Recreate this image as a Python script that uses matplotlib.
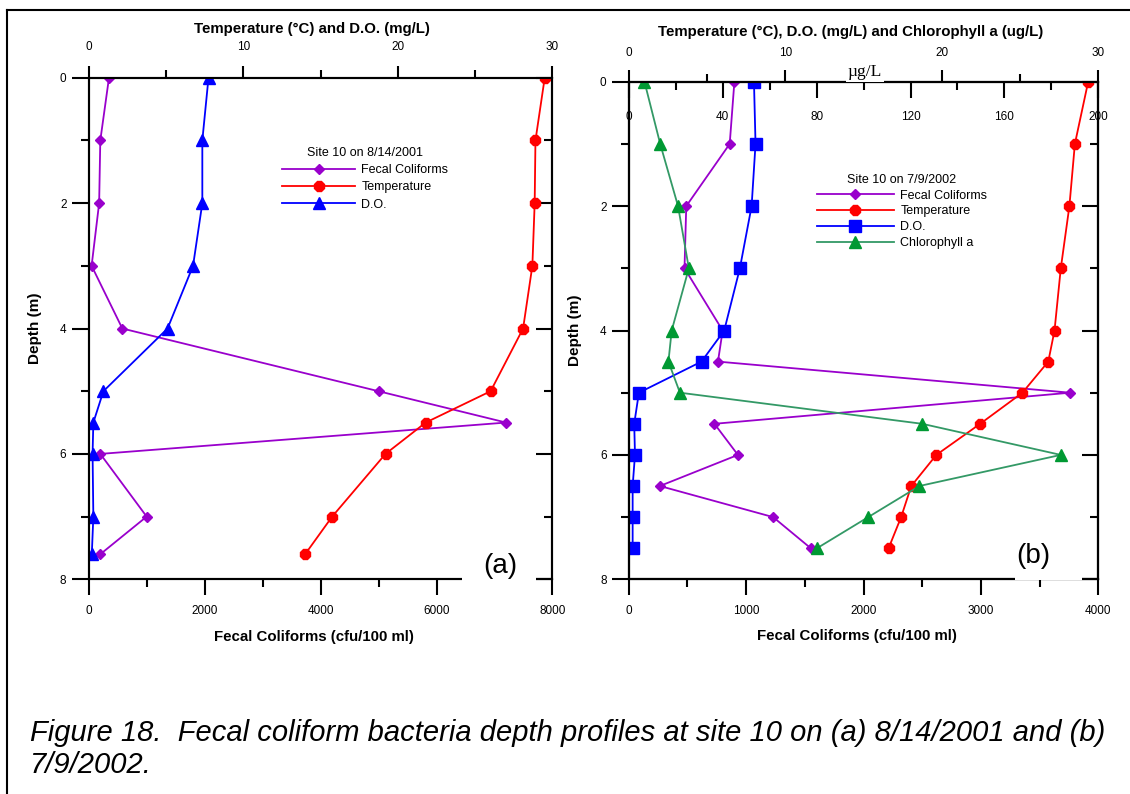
import numpy as np
import matplotlib
matplotlib.use('Agg')
import matplotlib.pyplot as plt
from matplotlib.ticker import MultipleLocator
from matplotlib.patches import Rectangle
from matplotlib.lines import Line2D

plt.rcParams['font.family'] = ['Liberation Sans', 'DejaVu Sans']

# (a) site 10 on 8/14/2001
depth_a = [0, 1, 2, 3, 4, 5, 5.5, 6, 7, 7.6]
fc_a = [350, 200, 180, 50, 580, 5000, 7200, 200, 1000, 200]
temp_a = [29.5, 28.9, 28.85, 28.7, 28.1, 26.0, 21.8, 19.2, 15.75, 14.0]
do_a = [7.75, 7.35, 7.35, 6.75, 5.1, 0.95, 0.3, 0.25, 0.3, 0.2]

# (b) site 10 on 7/9/2002
depth_b = [0, 1, 2, 3, 4, 4.5, 5, 5.5, 6, 6.5, 7, 7.5]
fc_b = [900, 860, 490, 475, 800, 760, 3760, 730, 930, 265, 1230, 1550]
temp_b = [29.35, 28.5, 28.15, 27.6, 27.2, 26.8, 25.15, 22.45, 19.65, 18.05, 17.4, 16.6]
do_b = [8.0, 8.1, 7.85, 7.1, 6.1, 4.65, 0.65, 0.35, 0.4, 0.25, 0.25, 0.25]
chl_b = [6.7, 13.4, 21.0, 25.6, 18.3, 16.9, 21.8, 125.0, 184.0, 123.8, 102.0, 80.2]

PURPLE = '#9900CC'
RED = '#FF0000'
BLUE = '#0000FF'
GREEN_LINE = '#339966'
GREEN = '#009933'
LW = 1.3
TICK_FS = 8.5
LABEL_FS = 10.8

fig = plt.figure(figsize=(11.3, 7.94), dpi=100)


def setup_main(ax, xmax, xmaj, xmin):
    ax.set_ylim(8, 0)
    ax.set_xlim(0, xmax)
    ax.xaxis.set_major_locator(MultipleLocator(xmaj))
    ax.xaxis.set_minor_locator(MultipleLocator(xmin))
    ax.yaxis.set_major_locator(MultipleLocator(2))
    ax.yaxis.set_minor_locator(MultipleLocator(1))
    for s in ax.spines.values():
        s.set_linewidth(1.5)
    ax.tick_params(axis='x', which='major', direction='out', length=11.5, width=1.5,
                   pad=7, labelsize=TICK_FS)
    ax.tick_params(axis='x', which='minor', direction='out', length=6, width=1.5)
    ax.tick_params(axis='y', which='major', direction='out', length=12, width=1.5,
                   pad=4, labelsize=TICK_FS, left=True, right=False)
    ax.tick_params(axis='y', which='minor', direction='out', length=6, width=1.5,
                   left=True, right=False)


def setup_top(ax2, pad):
    ax2.set_xlim(0, 30)
    ax2.xaxis.set_major_locator(MultipleLocator(10))
    ax2.xaxis.set_minor_locator(MultipleLocator(5))
    for s in ax2.spines.values():
        s.set_linewidth(1.5)
    ax2.tick_params(axis='x', which='major', direction='out', length=9, width=1.5,
                    pad=pad, labelsize=TICK_FS)
    ax2.tick_params(axis='x', which='minor', direction='out', length=6, width=1.5)
    # right side depth ticks point inward
    ax2.yaxis.set_visible(True)
    ax2.tick_params(axis='y', which='major', direction='in', length=11.5, width=1.5,
                    left=False, right=True, labelleft=False, labelright=False)
    ax2.tick_params(axis='y', which='minor', direction='in', length=6, width=1.5,
                    left=False, right=True)


# ---------------- panel (a) ----------------
axa = fig.add_axes([0.0785, 0.2704, 0.4104, 0.6317])
setup_main(axa, 8000, 2000, 1000)
axa2 = axa.twiny()
setup_top(axa2, 8.5)

l1, = axa.plot(fc_a, depth_a, color=PURPLE, lw=LW, marker='D', ms=5.5, label='Fecal Coliforms')
l2, = axa2.plot(temp_a, depth_a, color=RED, lw=LW, marker='8', ms=8.5, label='Temperature')
l3, = axa2.plot(do_a, depth_a, color=BLUE, lw=LW, marker='^', ms=8, label='D.O.')

axa.set_xlabel('Fecal Coliforms (cfu/100 ml)', fontsize=LABEL_FS, fontweight='bold')
axa.xaxis.set_label_coords(0.4856, -0.1144)
axa.xaxis.label.set_va('center')
axa.set_ylabel('Depth (m)', fontsize=11, fontweight='bold')
axa.yaxis.set_label_coords(-0.1158, 0.5)
axa.yaxis.label.set_va('center')
axa2.set_xlabel('Temperature (°C) and D.O. (mg/L)', fontsize=LABEL_FS, fontweight='bold')
axa2.xaxis.set_label_coords(0.4813, 1.0965)
axa2.xaxis.label.set_va('center')

axa2.legend([l1, l2, l3], ['Fecal Coliforms', 'Temperature', 'D.O.'],
            title='Site 10 on 8/14/2001', loc='upper left',
            bbox_to_anchor=(0.2496, 0.8149), bbox_transform=fig.transFigure,
            frameon=False, fontsize=9, title_fontsize=9, handlelength=5.85,
            handletextpad=0.5, labelspacing=0.42, borderpad=0, borderaxespad=0)

axa2.add_patch(Rectangle((0.806, -0.02), 0.9645 - 0.806, 0.024, transform=axa2.transAxes,
                         facecolor='white', edgecolor='none', clip_on=False, zorder=10))
axa2.text(0.887, 0.0265, '(a)', transform=axa2.transAxes, fontsize=20,
          ha='center', va='center', zorder=11)

# ---------------- panel (b) ----------------
axb = fig.add_axes([0.5564, 0.2704, 0.4156, 0.6267])
setup_main(axb, 4000, 1000, 500)
axb2 = axb.twiny()
setup_top(axb2, 7)
axb3 = axb.twiny()
axb3.set_xlim(0, 200)
axb3.xaxis.set_major_locator(MultipleLocator(40))
axb3.xaxis.set_minor_locator(MultipleLocator(20))
for s in axb3.spines.values():
    s.set_linewidth(1.5)
axb3.tick_params(axis='x', which='major', direction='in', length=11.5, width=1.5,
                 pad=-29.5, labelsize=TICK_FS, top=True, bottom=False)
axb3.tick_params(axis='x', which='minor', direction='in', length=6, width=1.5,
                 top=True, bottom=False)

m1, = axb.plot(fc_b, depth_b, color=PURPLE, lw=LW, marker='D', ms=5.5, label='Fecal Coliforms')
m2, = axb2.plot(temp_b, depth_b, color=RED, lw=LW, marker='8', ms=8.5, label='Temperature')
m3, = axb2.plot(do_b, depth_b, color=BLUE, lw=LW, marker='s', ms=8, label='D.O.')
m4, = axb3.plot(chl_b, depth_b, color=GREEN_LINE, lw=LW, marker='^', ms=8,
                mfc=GREEN, mec=GREEN, label='Chlorophyll a')

axb.set_xlabel('Fecal Coliforms (cfu/100 ml)', fontsize=LABEL_FS, fontweight='bold')
axb.xaxis.set_label_coords(0.4855, -0.114)
axb.xaxis.label.set_va('center')
axb.set_ylabel('Depth (m)', fontsize=11, fontweight='bold')
axb.yaxis.set_label_coords(-0.1143, 0.5)
axb.yaxis.label.set_va('center')
axb2.set_xlabel('Temperature (°C), D.O. (mg/L) and Chlorophyll a (ug/L)',
                fontsize=LABEL_FS, fontweight='bold')
axb2.xaxis.set_label_coords(0.472, 1.0993)
axb2.xaxis.label.set_va('center')

axb3.text(0.503, 1.004, 'µg/L', transform=axb3.transAxes, fontsize=12.5,
          fontfamily='Liberation Serif', ha='center', va='bottom', zorder=11,
          bbox=dict(facecolor='white', edgecolor='none', boxstyle='square,pad=0.12'))

axb3.legend([m1, m2, m3, m4], ['Fecal Coliforms', 'Temperature', 'D.O.', 'Chlorophyll a'],
            title='Site 10 on 7/9/2002', loc='upper left',
            bbox_to_anchor=(0.7227, 0.7809), bbox_transform=fig.transFigure,
            frameon=False, fontsize=9, title_fontsize=9, handlelength=6.2,
            handletextpad=0.5, labelspacing=0.3, borderpad=0, borderaxespad=0)

axb3.add_patch(Rectangle((0.8226, -0.002), 0.9653 - 0.8226, 0.006, transform=axb3.transAxes,
                         facecolor='white', edgecolor='none', clip_on=False, zorder=10))
axb3.text(0.861, 0.047, '(b)', transform=axb3.transAxes, fontsize=20,
          ha='center', va='center', zorder=11)

# outer frame and caption
fig.add_artist(Line2D([7 / 1130, 1.0], [1 - 10 / 794, 1 - 10 / 794], color='black', lw=1.5))
fig.add_artist(Line2D([7 / 1130, 7 / 1130], [1 - 10 / 794, 0.0], color='black', lw=1.5))
fig.text(30 / 1130, 1 - 773 / 794,
         'Figure 18.  Fecal coliform bacteria depth profiles at site 10 on (a) 8/14/2001 and (b)\n7/9/2002.',
         fontsize=21, fontstyle='italic', ha='left', va='baseline', linespacing=1.16)

fig.savefig('out.png', dpi=100)
